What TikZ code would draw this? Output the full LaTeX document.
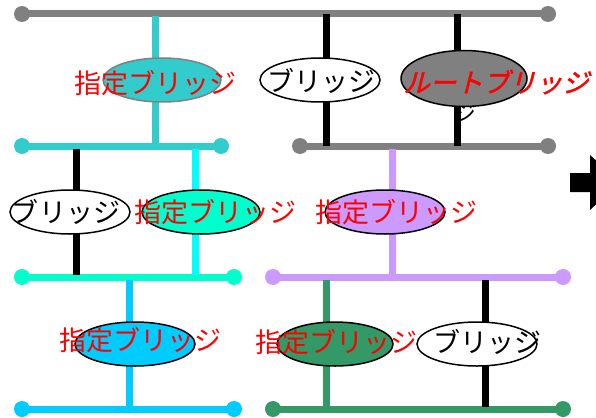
\documentclass[tikz,border=0pt]{standalone}
\usepackage{fontspec}
\newfontfamily\jp{Noto Sans CJK JP}
\newfontfamily\jproot[FakeSlant=0.25,FakeBold=1.5]{Noto Sans CJK JP}
\usetikzlibrary{shapes.geometric}
\definecolor{cgray}{HTML}{808080}
\definecolor{cteal}{HTML}{33CCCC}
\definecolor{cturq}{HTML}{00FFCC}
\definecolor{ccyan}{HTML}{00FFFF}
\definecolor{clav}{HTML}{CC99FF}
\definecolor{csky}{HTML}{00CCFF}
\definecolor{csea}{HTML}{339966}
\tikzset{
  bus/.style={line width=7pt},
  link/.style={line width=7pt},
  dot/.style={circle,inner sep=0pt,minimum size=16pt},
  ell/.style={ellipse,draw=black,line width=1.5pt,inner sep=0pt,minimum width=120pt,minimum height=44pt},
  lbl/.style={inner sep=0pt,font=\jp\fontsize{27}{30}\selectfont},
  redlbl/.style={lbl,text=red},
}
\begin{document}
\begin{tikzpicture}[x=1pt,y=-1pt]
\useasboundingbox (0,0) rectangle (596,417);
\clip (0,0) rectangle (596,417);
\fill[white] (0,0) rectangle (596,417);
% bus coordinates
\coordinate (b1L) at (22,14);  \coordinate (b1R) at (548,14);
\coordinate (b2L) at (22,146); \coordinate (b2R) at (221,146);
\coordinate (b3L) at (300,146); \coordinate (b3R) at (548,146);
\coordinate (b4L) at (22,277); \coordinate (b4R) at (234,277);
\coordinate (b5L) at (273,277); \coordinate (b5R) at (563,277);
\coordinate (b6L) at (22,409); \coordinate (b6R) at (234,409);
\coordinate (b7L) at (273,409); \coordinate (b7R) at (563,409);
% buses
\draw[bus,cgray] (b1L) -- (b1R);
\draw[bus,cteal] (b2L) -- (b2R);
\draw[bus,cgray] (b3L) -- (b3R);
\draw[bus,cturq] (b4L) -- (b4R);
\draw[bus,clav] (b5L) -- (b5R);
\draw[bus,csky] (b6L) -- (b6R);
\draw[bus,csea] (b7L) -- (b7R);
\node[dot,fill=cgray] (d1L) at (b1L) {}; \node[dot,fill=cgray] (d1R) at (b1R) {};
\node[dot,fill=cteal] (d2L) at (b2L) {}; \node[dot,fill=cteal] (d2R) at (b2R) {};
\node[dot,fill=cgray] (d3L) at (b3L) {}; \node[dot,fill=cgray] (d3R) at (b3R) {};
\node[dot,fill=cturq] (d4L) at (b4L) {}; \node[dot,fill=cturq] (d4R) at (b4R) {};
\node[dot,fill=clav] (d5L) at (b5L) {}; \node[dot,fill=clav] (d5R) at (b5R) {};
\node[dot,fill=csky] (d6L) at (b6L) {}; \node[dot,fill=csky] (d6R) at (b6R) {};
\node[dot,fill=csea] (d7L) at (b7L) {}; \node[dot,fill=csea] (d7R) at (b7R) {};
% hidden wrapped character under root bridge
\node[lbl,font=\jp\fontsize{22}{24}\selectfont] (tw) at (465,113) {ジ};
% vertical links
\coordinate (v1t) at (155,16); \coordinate (v1b) at (155,144);
\coordinate (v2t) at (326,14); \coordinate (v2b) at (326,146);
\coordinate (v3t) at (457,14); \coordinate (v3b) at (457,146);
\coordinate (v4t) at (76,149); \coordinate (v4b) at (76,275);
\coordinate (v5t) at (195,149); \coordinate (v5b) at (195,275);
\coordinate (v6t) at (392,149); \coordinate (v6b) at (392,275);
\coordinate (v7t) at (129,280); \coordinate (v7b) at (129,407);
\coordinate (v8t) at (326,280); \coordinate (v8b) at (326,407);
\coordinate (v9t) at (485,280); \coordinate (v9b) at (485,407);
\draw[link,cteal] (v1t) -- (v1b);
\draw[link,black] (v2t) -- (v2b);
\draw[link,black] (v3t) -- (v3b);
\draw[link,black] (v4t) -- (v4b);
\draw[link,ccyan] (v5t) -- (v5b);
\draw[link,clav] (v6t) -- (v6b);
\draw[link,csky] (v7t) -- (v7b);
\draw[link,csea] (v8t) -- (v8b);
\draw[link,black] (v9t) -- (v9b);
% bridges
\node[ell,fill=cteal,draw=cgray,minimum width=118pt] (e1) at (162,80) {};
\node[ell,fill=white] (e2) at (320,80) {};
\node[ell,fill=cgray,minimum width=126pt,minimum height=56pt] (e3) at (464,78.5) {};
\node[ell,fill=white] (e4) at (70,212) {};
\node[ell,fill=cturq,minimum width=118pt] (e5) at (201,212) {};
\node[ell,fill=clav] (e6) at (385,212) {};
\node[ell,fill=csky] (e7) at (135,344) {};
\node[ell,fill=csea,minimum width=116pt] (e8) at (335,344) {};
\node[ell,fill=white] (e9) at (477,344) {};
% labels
\node[redlbl] (t1) at (155.5,83) {指定ブリッジ};
\node[lbl] (t2) at (321,81) {ブリッジ};
\node[lbl,text=red,font=\jproot\fontsize{26.5}{30}\selectfont] (t3) at (496,82) {ルートブリッジ};
\node[lbl] (t4) at (66,212) {ブリッジ};
\node[redlbl] (t5) at (215.5,212) {指定ブリッジ};
\node[redlbl] (t6) at (396.5,212) {指定ブリッジ};
\node[redlbl] (t7) at (140,340) {指定ブリッジ};
\node[redlbl] (t8) at (336,342) {指定ブリッジ};
\node[lbl] (t9) at (487,342) {ブリッジ};
% arrow at right edge (cut off)
\fill[black] (570,173) -- (590,173) -- (590,155) -- (620,182) -- (590,210) -- (590,192) -- (570,192) -- cycle;
\end{tikzpicture}
\end{document}
